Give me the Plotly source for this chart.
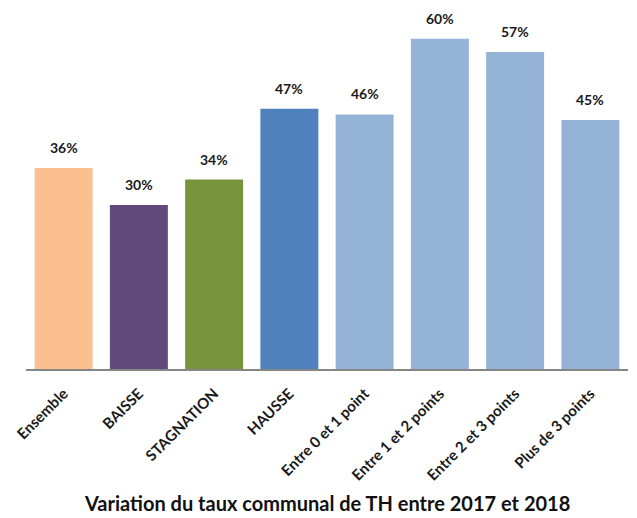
import plotly.graph_objects as go

categories = ["Ensemble", "BAISSE", "STAGNATION", "HAUSSE",
              "Entre 0 et 1 point", "Entre 1 et 2 points",
              "Entre 2 et 3 points", "Plus de 3 points"]
values = [36.4, 29.7, 34.3, 47.1, 46.1, 59.8, 57.4, 45.1]
labels = ["36%", "30%", "34%", "47%", "46%", "60%", "57%", "45%"]
colors = ["#FAC090", "#604A7B", "#77933C", "#4F81BD",
          "#95B3D7", "#95B3D7", "#95B3D7", "#95B3D7"]
title_text = "Variation du taux communal de TH entre 2017 et 2018"

fig = go.Figure(go.Bar(
    x=categories, y=values, marker_color=colors, marker_line_width=0,
    hoverinfo="skip",
))

annotations = [
    dict(x=c, y=v, text=t, xref="x", yref="y", yanchor="bottom",
         yshift=10, showarrow=False,
         font=dict(family="Lato", size=14, color="#1a1a1a", weight="bold"))
    for c, v, t in zip(categories, values, labels)
]
annotations.append(dict(text=title_text, xref="paper", yref="paper",
                        x=0.5, y=-0.372, yanchor="middle", showarrow=False,
                        font=dict(family="Lato", size=20, color="#111", weight="bold")))

fig.update_layout(
    width=637, height=518,
    margin=dict(l=26, r=9, t=10, b=149),
    paper_bgcolor="white", plot_bgcolor="white",
    bargap=0.23, showlegend=False,
    xaxis=dict(showline=True, linecolor="#868686", linewidth=2,
               tickangle=-45, ticks="", ticklabelstandoff=8,
               tickfont=dict(family="Lato", size=15, color="#1a1a1a", weight="bold")),
    yaxis=dict(range=[0, 65], visible=False, showgrid=False),
    annotations=annotations,
)

fig.write_html("out.html")
